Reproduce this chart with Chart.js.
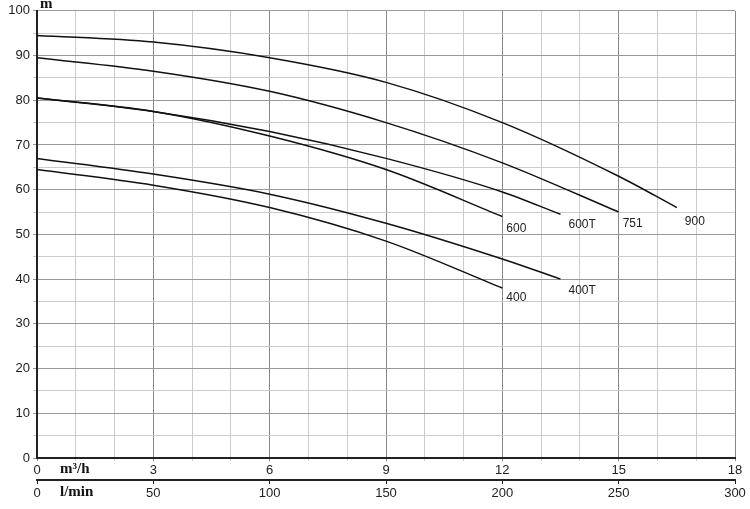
<!DOCTYPE html>
<html><head><meta charset="utf-8">
<script src="https://cdn.jsdelivr.net/npm/chart.js@4"></script>
<style>body{margin:0;background:#fff}#wrap{width:750px;height:509px}</style>
</head><body><div id="wrap"><canvas id="chart"></canvas></div>
<script>
// flow in m3/h, head in m
const flow900 = [0, 3, 6, 9, 12, 15, 16.5];
const head900 = [94.5, 93, 89.5, 84, 75, 63, 56];
const flow751 = [0, 3, 6, 9, 12, 15];
const head751 = [89.5, 86.5, 82, 75, 66, 55];
const flow600T = [0, 3, 6, 9, 12, 13.5];
const head600T = [80.5, 77.5, 73, 67, 59.5, 54.5];
const flow600 = [0, 3, 6, 9, 12];
const head600 = [80.5, 77.5, 72, 64.5, 54];
const flow400T = [0, 3, 6, 9, 12, 13.5];
const head400T = [67, 63.5, 59, 52.5, 44.5, 40];
const flow400 = [0, 3, 6, 9, 12];
const head400 = [64.5, 61, 56, 48.5, 38];
const names = ['900', '751', '600T', '600', '400T', '400'];
const labelOffsets = [[18, 14], [14, 12], [18, 10], [14, 12], [18, 12], [14, 10]];

function pts(xs, ys) { return xs.map((x, i) => ({x: x, y: ys[i]})); }
const series = [pts(flow900, head900), pts(flow751, head751), pts(flow600T, head600T),
                pts(flow600, head600), pts(flow400T, head400T), pts(flow400, head400)];

const curveLabels = {
    id: 'curveLabels',
    afterDatasetsDraw(chart) {
        const ctx = chart.ctx;
        ctx.save();
        ctx.font = '12px "Liberation Sans", Arial';
        ctx.fillStyle = '#222';
        ctx.textBaseline = 'middle';
        chart.data.datasets.forEach((ds, i) => {
            const p = ds.data[ds.data.length - 1];
            const x = chart.scales.x.getPixelForValue(p.x) + labelOffsets[i][0] - 10;
            const y = chart.scales.y.getPixelForValue(p.y) + labelOffsets[i][1];
            ctx.fillText(names[i], x, y);
        });
        ctx.font = 'bold 15px "Liberation Serif", serif';
        ctx.fillStyle = '#111';
        ctx.fillText('m', 40, 4);
        ctx.fillText('m\u00b3/h', 60, 469);
        ctx.fillText('l/min', 60, 492);
        ctx.restore();
    }
};

new Chart(document.getElementById('chart'), {
    type: 'line',
    data: {
        datasets: series.map(d => ({
            data: d, borderColor: '#111', borderWidth: 1.5, pointRadius: 0,
            cubicInterpolationMode: 'monotone', fill: false
        }))
    },
    options: {
        responsive: true, maintainAspectRatio: false, animation: false,
        layout: {padding: {top: 10, right: 15, left: 0, bottom: 0}},
        plugins: {legend: {display: false}, tooltip: {enabled: false}},
        scales: {
            x: {
                type: 'linear', min: 0, max: 18, position: 'bottom',
                afterFit(s) { s.height = 22; },
                ticks: {stepSize: 1, autoSkip: false, color: '#222', font: {size: 13},
                    padding: 2, callback: v => (v % 3 === 0 ? v : '')},
                grid: {color: c => (c.tick && c.tick.value % 3 === 0 ? '#888' : '#ccc'),
                    lineWidth: 1, tickLength: 3},
                border: {color: '#222', width: 2}
            },
            x2: {
                type: 'linear', min: 0, max: 300, position: 'bottom',
                afterFit(s) { s.height = 29; },
                ticks: {stepSize: 50, color: '#222', font: {size: 13}, padding: 2},
                grid: {drawOnChartArea: false, tickLength: 4, color: '#222'},
                border: {color: '#222', width: 2}
            },
            y: {
                min: 0, max: 100,
                afterFit(s) { s.width = 37; },
                ticks: {stepSize: 5, autoSkip: false, color: '#222', font: {size: 13},
                    callback: v => (v % 10 === 0 ? v : '')},
                grid: {color: c => (c.tick && c.tick.value % 10 === 0 ? '#999' : '#ccc'),
                    tickLength: 4},
                border: {color: '#222', width: 2}
            }
        }
    },
    plugins: [curveLabels]
});
</script></body></html>
